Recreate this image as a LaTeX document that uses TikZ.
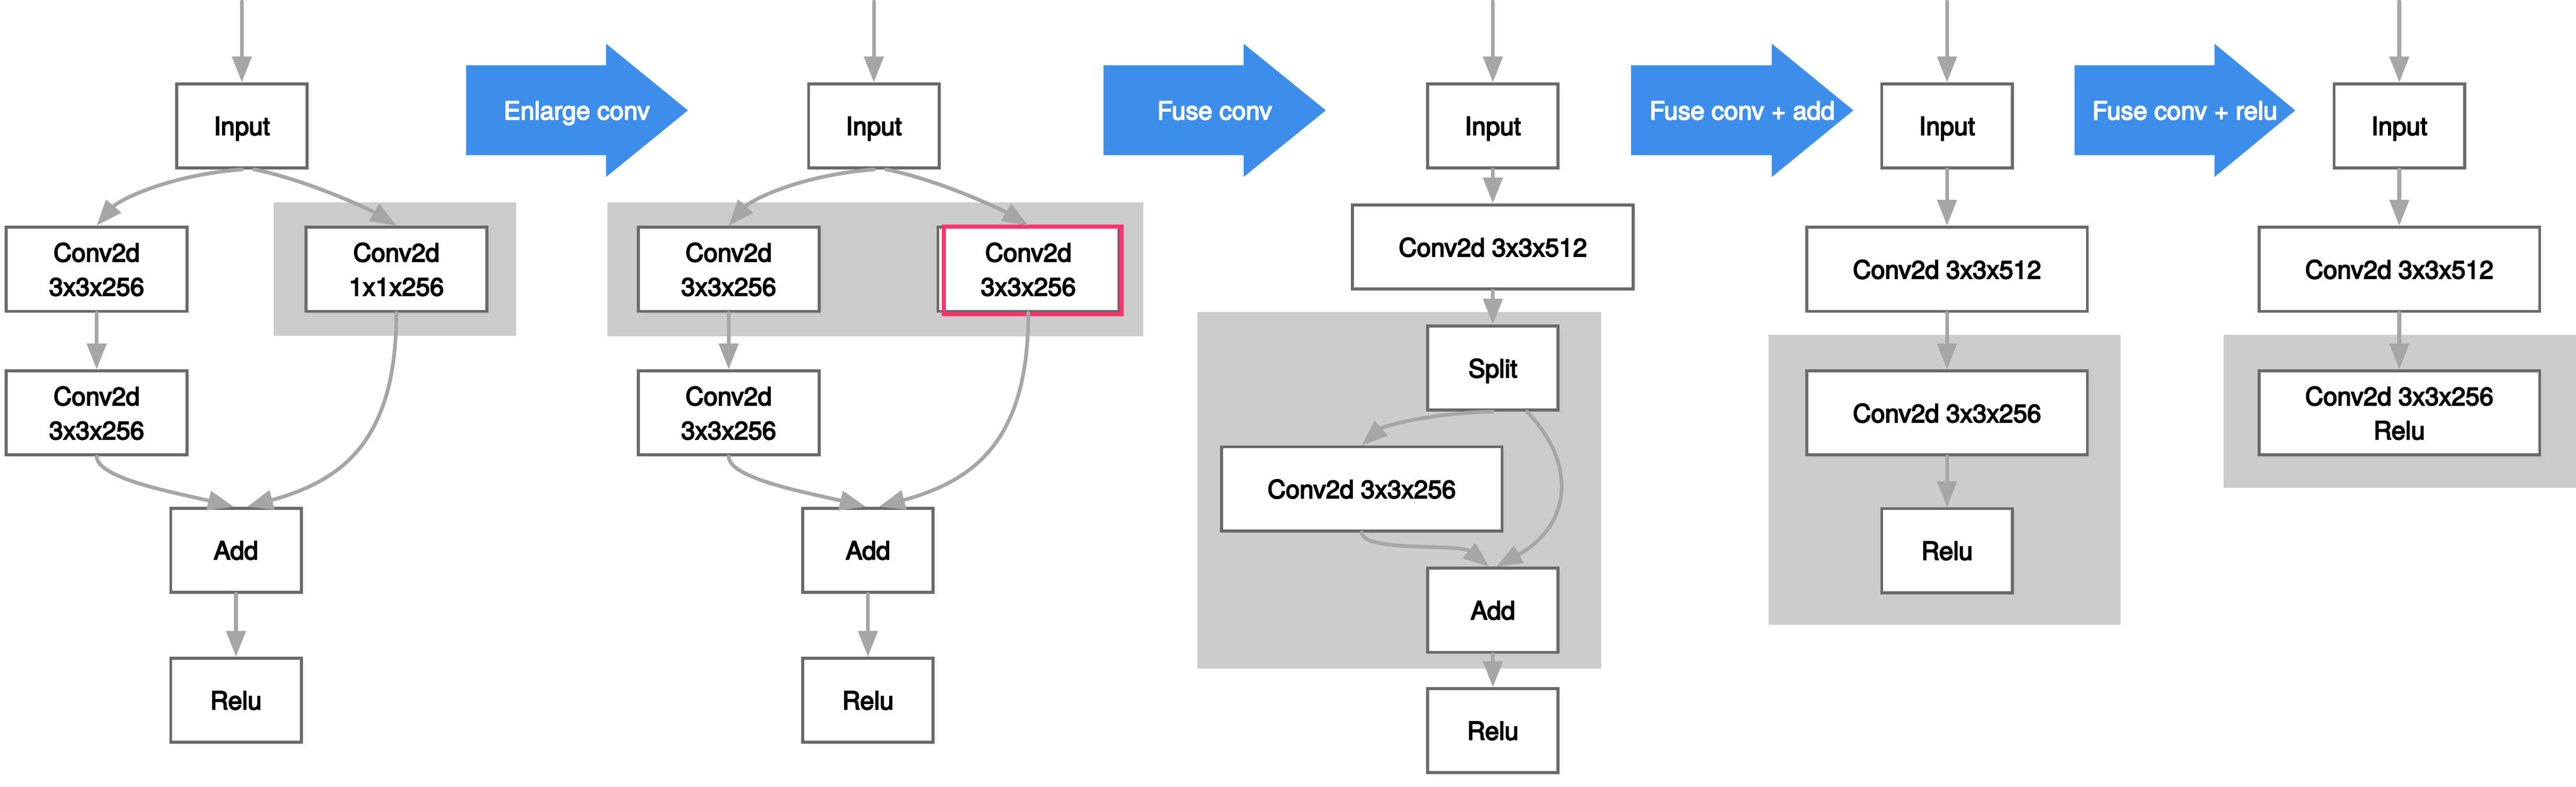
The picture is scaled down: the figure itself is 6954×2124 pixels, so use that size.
\documentclass[tikz,border=0pt]{standalone}
\usepackage{fontspec}
\setmainfont{TeX Gyre Heros}[FakeBold=4]
\usetikzlibrary{arrows.meta,shadows}
\definecolor{boxborder}{RGB}{106,106,106}
\definecolor{conngray}{RGB}{166,166,166}
\definecolor{panelgray}{RGB}{204,204,204}
\definecolor{bluearr}{RGB}{61,142,235}
\definecolor{redhl}{RGB}{252,52,110}
\tikzset{
  box/.style={draw=boxborder, line width=0.08cm, fill=white, minimum height=2.27cm,
    inner sep=0pt, align=center, text depth=0pt,
    font=\fontsize{19.3pt}{26.2pt}\selectfont,
    drop shadow={opacity=0.06, shadow xshift=0.03cm, shadow yshift=-0.03cm},
    drop shadow={opacity=0.05, shadow xshift=0.07cm, shadow yshift=-0.06cm},
    drop shadow={opacity=0.04, shadow xshift=0.12cm, shadow yshift=-0.09cm}},
  smallbox/.style={box, minimum width=3.52cm},
  midbox/.style={box, minimum width=4.88cm},
  widebox/.style={box, minimum width=7.57cm},
  conn/.style={draw=conngray, line width=0.1cm, line cap=round,
    -{Triangle[length=0.7cm, width=0.52cm]}},
  bigarrow/.style={fill=bluearr},
  arrowtext/.style={text=white, inner sep=0pt, text depth=0pt,
    font=\fontsize{19.3pt}{26.2pt}\selectfont},
  panel/.style={fill=panelgray},
  hlbox/.style={draw=redhl, line width=0.11cm, minimum width=4.79cm,
    minimum height=2.36cm, inner sep=0pt},
}
\begin{document}
\begin{tikzpicture}[x=0.01cm, y=-0.01cm]
\useasboundingbox (0,0) rectangle (6954,2124);

% ---------- gray panels ----------
\fill[panel] (739,546) rectangle (1393,907);
\fill[panel] (1640,546) rectangle (3086,908);
\fill[panel] (3232,843) rectangle (4322,1805);
\fill[panel] (4775,904) rectangle (5724,1687);
\fill[panel] (6003,904) rectangle (6954,1317);

% ---------- big blue arrows ----------
\fill[bigarrow] (1258,176) -- (1636,176) -- (1636,118) -- (1857,298) -- (1636,478) -- (1636,419) -- (1258,419) -- cycle;
\node[arrowtext] (lab1) at (1557,298) {Enlarge conv};
\fill[bigarrow] (2979,176) -- (3357,176) -- (3357,118) -- (3579,298) -- (3357,478) -- (3357,419) -- (2979,419) -- cycle;
\node[arrowtext] (lab2) at (3279,298) {Fuse conv};
\fill[bigarrow] (4403,176) -- (4783,176) -- (4783,118) -- (5003,298) -- (4783,478) -- (4783,419) -- (4403,419) -- cycle;
\node[arrowtext] (lab3) at (4703,298) {Fuse conv + add};
\fill[bigarrow] (5600,176) -- (5978,176) -- (5978,118) -- (6196,298) -- (5978,478) -- (5978,419) -- (5600,419) -- cycle;
\node[arrowtext] (lab4) at (5898,298) {Fuse conv + relu};

% ---------- panel 1 ----------
\node[smallbox] (in1) at (653,340) {Input};
\node[midbox] (ca1) at (261,727) {Conv2d\\3x3x256};
\node[midbox] (cb1) at (1070,727) {Conv2d\\1x1x256};
\node[midbox] (cc1) at (261,1115) {Conv2d\\3x3x256};
\node[smallbox] (add1) at (637,1486) {Add};
\node[smallbox] (relu1) at (637,1891) {Relu};
\coordinate (t1) at (653,4);
\draw[conn] (t1) -- (in1);
\draw[conn] (in1.south) .. controls +(-203,16) and +(59,-68) .. (ca1.north);
\draw[conn] ([xshift=0.33cm]in1.south) .. controls +(134,26) and +(-80,-48) .. (cb1.north);
\draw[conn] (ca1) -- (cc1);
\draw[conn] (cc1.south) .. controls +(2,61) and +(-151,-37) .. ([xshift=-0.06cm]add1.north);
\draw[conn] (cb1.south) .. controls +(0,340) and +(263,-72) .. ([xshift=0.3cm]add1.north);
\draw[conn] (add1) -- (relu1);

% ---------- panel 2 ----------
\node[smallbox] (in2) at (2359,340) {Input};
\node[midbox] (ca2) at (1967,727) {Conv2d\\3x3x256};
\node[midbox] (cb2) at (2776,727) {Conv2d\\3x3x256};
\node[hlbox] (hl) at (2788,730.5) {};
\node[midbox] (cc2) at (1967,1115) {Conv2d\\3x3x256};
\node[smallbox] (add2) at (2343,1486) {Add};
\node[smallbox] (relu2) at (2343,1891) {Relu};
\coordinate (t2) at (2359,4);
\draw[conn] (t2) -- (in2);
\draw[conn] (in2.south) .. controls +(-203,16) and +(59,-68) .. (ca2.north);
\draw[conn] ([xshift=0.33cm]in2.south) .. controls +(134,26) and +(-80,-48) .. (cb2.north);
\draw[conn] (ca2) -- (cc2);
\draw[conn] (cc2.south) .. controls +(2,61) and +(-151,-37) .. ([xshift=-0.06cm]add2.north);
\draw[conn] (cb2.south) .. controls +(0,340) and +(263,-72) .. ([xshift=0.3cm]add2.north);
\draw[conn] (add2) -- (relu2);

% ---------- panel 3 ----------
\node[smallbox] (in3) at (4030,340) {Input};
\node[widebox] (c512a) at (4030,667) {Conv2d 3x3x512};
\node[smallbox] (split) at (4030,994) {Split};
\node[widebox] (c256a) at (3676,1320) {Conv2d 3x3x256};
\node[smallbox] (add3) at (4030,1648) {Add};
\node[smallbox] (relu3) at (4030,1973) {Relu};
\coordinate (t3) at (4030,4);
\draw[conn] (t3) -- (in3);
\draw[conn] (in3) -- (c512a);
\draw[conn] (c512a) -- (split);
\draw[conn] (split.south) .. controls +(-150,3) and +(64,-56) .. (c256a.north);
\draw[conn] ([xshift=0.92cm]split.south) .. controls +(138,143) and +(201,-110) .. ([xshift=0.09cm]add3.north);
\draw[conn] (c256a.south) .. controls +(4,55) and +(-80,-64) .. ([xshift=-0.1cm]add3.north);
\draw[conn] (add3) -- (relu3);

% ---------- panel 4 ----------
\node[smallbox] (in4) at (5256,340) {Input};
\node[widebox] (c512b) at (5256,727) {Conv2d 3x3x512};
\node[widebox] (c256b) at (5256,1115) {Conv2d 3x3x256};
\node[smallbox] (relu4) at (5256,1487) {Relu};
\coordinate (t4) at (5256,4);
\draw[conn] (t4) -- (in4);
\draw[conn] (in4) -- (c512b);
\draw[conn] (c512b) -- (c256b);
\draw[conn] (c256b) -- (relu4);

% ---------- panel 5 ----------
\node[smallbox] (in5) at (6477,340) {Input};
\node[widebox] (c512c) at (6477,727) {Conv2d 3x3x512};
\node[widebox] (c256c) at (6477,1115) {Conv2d 3x3x256\\Relu};
\coordinate (t5) at (6477,4);
\draw[conn] (t5) -- (in5);
\draw[conn] (in5) -- (c512c);
\draw[conn] (c512c) -- (c256c);
\end{tikzpicture}
\end{document}
